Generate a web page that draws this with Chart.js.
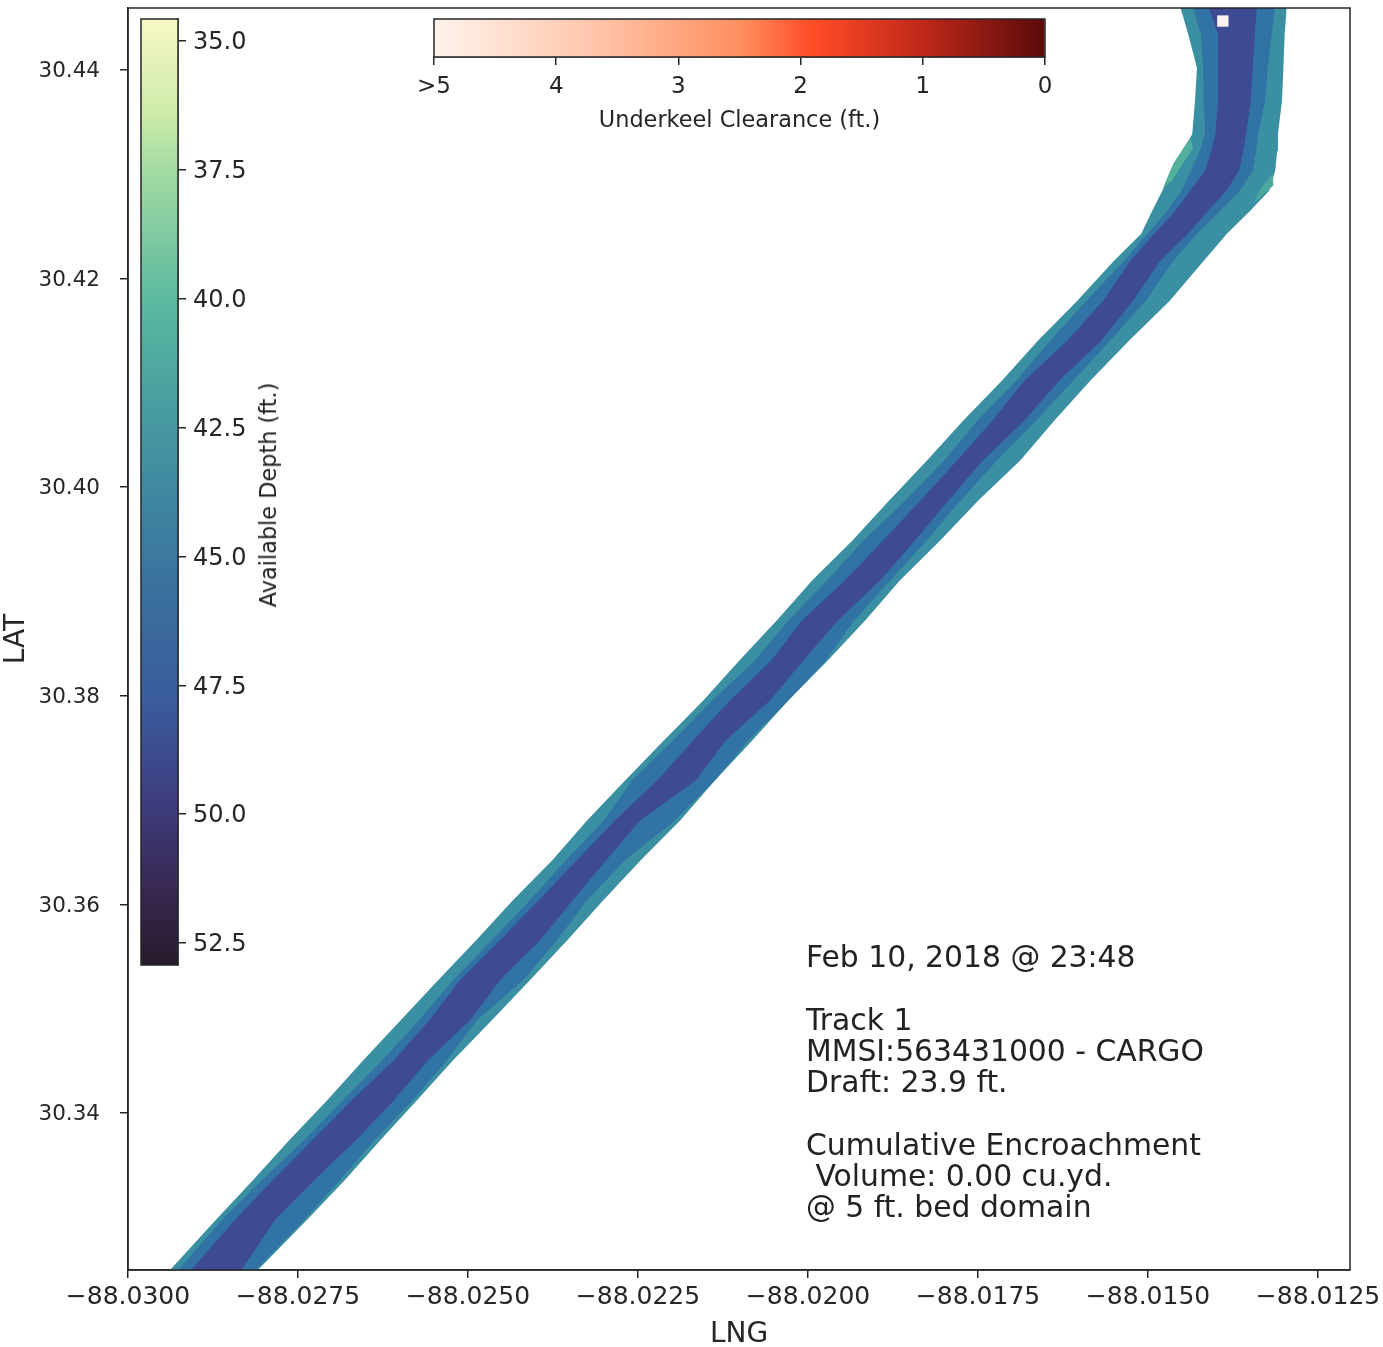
<!DOCTYPE html>
<html>
<head>
<meta charset="utf-8">
<title>Underkeel Clearance</title>
<script src="https://cdn.jsdelivr.net/npm/chart.js@4"></script>
<style>
    body { margin: 0; background: #fff; font-family: "DejaVu Sans", sans-serif; color: #222; }
    #wrap { position: relative; width: 1383px; height: 1347px; overflow: hidden; }
    canvas { position: absolute; }
    #mainChart { left: 0; top: 0; }
    #depthBar { left: 135px; top: 12px; }
    #clearBar { left: 414px; top: 12px; }
    #depthTitle { position: absolute; left: 268px; top: 495px; font-size: 22.4px; white-space: nowrap; transform: translate(-50%, -50%) rotate(-90deg); }
    #info { position: absolute; left: 806px; top: 941px; font-size: 29.8px; line-height: 31.3px; white-space: pre; }
</style>
</head>
<body>
<div id="wrap">
    <canvas id="mainChart" width="1383" height="1347"></canvas>
    <canvas id="depthBar" width="140" height="960"></canvas>
    <canvas id="clearBar" width="660" height="120"></canvas>
    <div id="depthTitle">Available Depth (ft.)</div>
    <div id="info"></div>
</div>
<script>
// Axis ranges and ticks
const lngMin = -88.03, lngMax = -88.01203;
const latMin = 30.32496, latMax = 30.44594;
const lngTicks = [-88.03, -88.0275, -88.025, -88.0225, -88.02, -88.0175, -88.015, -88.0125];
const latTicks = [30.34, 30.36, 30.38, 30.40, 30.42, 30.44];

// Channel edges, one longitude per latitude level
const latLevels = [30.44613, 30.44345, 30.44019, 30.43703, 30.43387, 30.43224, 30.43033, 30.42841, 30.42649, 30.42429, 30.42170, 30.41787,
    30.41404, 30.41021, 30.40638, 30.40255, 30.39871, 30.39488, 30.39105, 30.38722, 30.38339, 30.37956, 30.37572, 30.37189,
    30.36806, 30.36423, 30.36040, 30.35657, 30.35274, 30.34890, 30.34507, 30.34124, 30.33741, 30.33358, 30.32975, 30.32476];
const outerLeft = [-88.01453, -88.01441, -88.01428, -88.01431, -88.01435, -88.01449, -88.01465, -88.01479, -88.01494, -88.01510, -88.01550, -88.01604,
    -88.01662, -88.01715, -88.01772, -88.01825, -88.01881, -88.01935, -88.01994, -88.02046, -88.02101, -88.02154, -88.02212, -88.02269,
    -88.02325, -88.02376, -88.02434, -88.02488, -88.02544, -88.02599, -88.02654, -88.02707, -88.02763, -88.02816, -88.02871, -88.02941];
const outerRight = [-88.01296, -88.01299, -88.01301, -88.01303, -88.01309, -88.01310, -88.01313, -88.01322, -88.01350, -88.01384, -88.01418, -88.01468,
    -88.01528, -88.01585, -88.01638, -88.01688, -88.01750, -88.01806, -88.01865, -88.01916, -88.01971, -88.02029, -88.02082, -88.02137,
    -88.02188, -88.02246, -88.02301, -88.02354, -88.02409, -88.02465, -88.02522, -88.02575, -88.02629, -88.02681, -88.02737, -88.02812];
const midLeft = [-88.01435, -88.01422, -88.01419, -88.01418, -88.01416, -88.01424, -88.01437, -88.01451, -88.01472, -88.01501, -88.01535, -88.01591,
    -88.01644, -88.01694, -88.01751, -88.01800, -88.01857, -88.01919, -88.01972, -88.02029, -88.02078, -88.02141, -88.02199, -88.02259,
    -88.02300, -88.02356, -88.02409, -88.02465, -88.02522, -88.02572, -88.02626, -88.02684, -88.02741, -88.02803, -88.02862, -88.02929];
const midRight = [-88.01313, -88.01318, -88.01324, -88.01328, -88.01338, -88.01341, -88.01346, -88.01365, -88.01394, -88.01428, -88.01463, -88.01503,
    -88.01556, -88.01610, -88.01665, -88.01722, -88.01776, -88.01826, -88.01879, -88.01932, -88.01974, -88.02029, -88.02088, -88.02137,
    -88.02196, -88.02269, -88.02325, -88.02369, -88.02419, -88.02487, -88.02531, -88.02581, -88.02638, -88.02688, -88.02741, -88.02815];
const innerLeft = [-88.01412, -88.01397, -88.01397, -88.01397, -88.01401, -88.01407, -88.01416, -88.01438, -88.01460, -88.01491, -88.01526, -88.01566,
    -88.01619, -88.01682, -88.01729, -88.01781, -88.01835, -88.01890, -88.01946, -88.02009, -88.02054, -88.02115, -88.02169, -88.02222,
    -88.02284, -88.02340, -88.02396, -88.02453, -88.02512, -88.02557, -88.02609, -88.02671, -88.02729, -88.02787, -88.02843, -88.02910];
const innerRight = [-88.01340, -88.01343, -88.01346, -88.01349, -88.01356, -88.01360, -88.01366, -88.01385, -88.01412, -88.01441, -88.01482, -88.01522,
    -88.01569, -88.01631, -88.01682, -88.01743, -88.01794, -88.01843, -88.01894, -88.01956, -88.02007, -88.02056, -88.02121, -88.02165,
    -88.02247, -88.02297, -88.02346, -88.02394, -88.02453, -88.02497, -88.02559, -88.02609, -88.02665, -88.02726, -88.02784, -88.02835];

// Shallower patches at the bend
const patchLeftLng = [-88.01438, -88.01463, -88.01478, -88.01465, -88.01453, -88.01434];
const patchLeftLat = [30.43349, 30.43100, 30.42870, 30.42937, 30.43061, 30.43253];
const patchRightLng = [-88.01316, -88.01316, -88.01346, -88.01335];
const patchRightLat = [30.43013, 30.42889, 30.42716, 30.42860];

// Vessel position
const vesselLng = [-88.01390];
const vesselLat = [30.44469];

// Colorbars
const depthMin = 34.574, depthMax = 52.926;
const depthTicks = [35, 37.5, 40, 42.5, 45, 47.5, 50, 52.5];
const depthStops = [0, 0.1, 0.16, 0.3, 0.4, 0.5, 0.6, 0.72, 0.82, 0.93, 1];
const depthColors = ['#f7f8c6', '#cdeba9', '#a3dba2', '#5ab8a0', '#4a9fa0', '#3f88a0', '#3a719e', '#3a5c9c', '#3e3f82', '#37264d', '#281a2c'];
const clearTicks = [0, 1, 2, 3, 4, 5];
const clearLabels = ['0', '1', '2', '3', '4', '>5'];
const clearStops = [0, 0.25, 0.5, 0.62, 0.8, 1];
const clearColors = ['#fff3ec', '#ffc8ae', '#ff8f60', '#ff4c26', '#c0281a', '#5a0a0a'];

const infoLines = ['Feb 10, 2018 @ 23:48', '', 'Track 1', 'MMSI:563431000 - CARGO', 'Draft: 23.9 ft.', '', 'Cumulative Encroachment', ' Volume: 0.00 cu.yd.', '@ 5 ft. bed domain'];
document.getElementById('info').textContent = infoLines.join('\n');

const fontName = '"DejaVu Sans", sans-serif';
const inkColor = '#262626';

// Left edge going down, right edge coming back up
function band(left, right) {
    const pts = latLevels.map((lat, i) => ({ x: left[i], y: lat }));
    for (let i = latLevels.length - 1; i >= 0; i--) pts.push({ x: right[i], y: latLevels[i] });
    return pts;
}
function polygon(lngs, lats) {
    return lngs.map((lng, i) => ({ x: lng, y: lats[i] }));
}
function area(data, color, order) {
    return { data, order, showLine: true, fill: 'shape', backgroundColor: color, borderWidth: 0, pointRadius: 0 };
}
// Scales keep label margins out of the layout so the plot box stays fixed
function fixWidth(w) {
    return s => { s.width = w; s.paddingTop = 0; s.paddingBottom = 0; };
}
function fixHeight(h) {
    return s => { s.height = h; s.paddingLeft = 0; s.paddingRight = 0; };
}

const framePlugin = {
    id: 'frame',
    afterDraw(chart) {
        const a = chart.chartArea, ctx = chart.ctx;
        ctx.save();
        ctx.strokeStyle = inkColor;
        ctx.lineWidth = 1.5;
        ctx.strokeRect(a.left, a.top, a.width, a.height);
        ctx.restore();
    }
};

new Chart(document.getElementById('mainChart'), {
    type: 'scatter',
    data: {
        datasets: [
            area(band(outerLeft, outerRight), '#3a90a2', 5),
            area(polygon(patchLeftLng, patchLeftLat), '#52b09c', 4),
            area(polygon(patchRightLng, patchRightLat), '#48a89e', 4),
            area(band(midLeft, midRight), '#3173a4', 3),
            area(band(innerLeft, innerRight), '#3e4a94', 2),
            {
                data: polygon(vesselLng, vesselLat), order: 1, pointStyle: 'rect', pointRadius: 8,
                backgroundColor: '#fdf3ee', borderWidth: 0
            }
        ]
    },
    options: {
        responsive: false,
        animation: false,
        layout: { padding: { top: 7, right: 33, left: 0, bottom: 0 } },
        plugins: { legend: { display: false }, tooltip: { enabled: false } },
        scales: {
            x: {
                type: 'linear', min: lngMin, max: lngMax,
                afterFit: fixHeight(77),
                afterBuildTicks: s => { s.ticks = lngTicks.map(v => ({ value: v })); },
                grid: { drawOnChartArea: false, tickLength: 8, color: inkColor, lineWidth: 1.5 },
                border: { color: inkColor, width: 1.5 },
                ticks: {
                    color: inkColor, font: { family: fontName, size: 25 }, padding: 4, maxRotation: 0, autoSkip: false,
                    callback: v => '\u2212' + Math.abs(v).toFixed(4)
                },
                title: { display: true, text: 'LNG', color: inkColor, font: { family: fontName, size: 28 }, padding: { top: 0, bottom: -5 } }
            },
            y: {
                type: 'linear', min: latMin, max: latMax,
                afterFit: fixWidth(128),
                afterBuildTicks: s => { s.ticks = latTicks.map(v => ({ value: v })); },
                grid: { drawOnChartArea: false, tickLength: 8, color: inkColor, lineWidth: 1.5 },
                border: { color: inkColor, width: 1.5 },
                ticks: {
                    color: inkColor, font: { family: fontName, size: 21.5 }, padding: 20, labelOffset: 1.5, autoSkip: false,
                    callback: v => v.toFixed(2)
                },
                title: { display: true, text: 'LAT', color: inkColor, font: { family: fontName, size: 28 }, padding: 0 }
            }
        }
    },
    plugins: [framePlugin]
});

function barGradient(chart, stops, colors, horizontal) {
    const a = chart.chartArea;
    if (!a) return colors[0];
    const g = horizontal
        ? chart.ctx.createLinearGradient(a.left, 0, a.right, 0)
        : chart.ctx.createLinearGradient(0, a.top, 0, a.bottom);
    stops.forEach((s, i) => g.addColorStop(s, colors[i]));
    return g;
}

// Depth colorbar, a single floating bar on its own value axis
new Chart(document.getElementById('depthBar'), {
    type: 'bar',
    data: {
        labels: ['depth'],
        datasets: [{
            data: [[depthMin, depthMax]],
            barPercentage: 1, categoryPercentage: 1,
            backgroundColor: c => barGradient(c.chart, depthStops, depthColors, false)
        }]
    },
    options: {
        responsive: false,
        animation: false,
        layout: { padding: { left: 6, top: 7, bottom: 7, right: 0 } },
        plugins: { legend: { display: false }, tooltip: { enabled: false } },
        scales: {
            x: { display: false },
            y: {
                position: 'right', reverse: true, min: depthMin, max: depthMax,
                afterFit: fixWidth(97),
                afterBuildTicks: s => { s.ticks = depthTicks.map(v => ({ value: v })); },
                grid: { drawOnChartArea: false, tickLength: 8, color: inkColor, lineWidth: 1.5 },
                border: { color: inkColor, width: 1.5 },
                ticks: {
                    color: inkColor, font: { family: fontName, size: 24 }, padding: 7, labelOffset: 2, autoSkip: false,
                    callback: v => v.toFixed(1)
                }
            }
        }
    },
    plugins: [framePlugin]
});

// Clearance colorbar
new Chart(document.getElementById('clearBar'), {
    type: 'bar',
    data: {
        labels: ['clearance'],
        datasets: [{
            data: [[0, 5]],
            barPercentage: 1, categoryPercentage: 1,
            backgroundColor: c => barGradient(c.chart, clearStops, clearColors, true)
        }]
    },
    options: {
        indexAxis: 'y',
        responsive: false,
        animation: false,
        layout: { padding: { left: 20, right: 29, top: 7, bottom: 0 } },
        plugins: { legend: { display: false }, tooltip: { enabled: false } },
        scales: {
            y: { display: false },
            x: {
                position: 'bottom', reverse: true, min: 0, max: 5,
                afterFit: fixHeight(75),
                afterBuildTicks: s => { s.ticks = clearTicks.map(v => ({ value: v })); },
                grid: { drawOnChartArea: false, tickLength: 8, color: inkColor, lineWidth: 1.5 },
                border: { color: inkColor, width: 1.5 },
                ticks: {
                    color: inkColor, font: { family: fontName, size: 23 }, padding: 8, maxRotation: 0, autoSkip: false,
                    callback: v => clearLabels[clearTicks.indexOf(v)]
                },
                title: { display: true, text: 'Underkeel Clearance (ft.)', color: inkColor, font: { family: fontName, size: 22.4 }, padding: { top: 0, bottom: -3 } }
            }
        }
    },
    plugins: [framePlugin]
});
</script>
</body>
</html>
